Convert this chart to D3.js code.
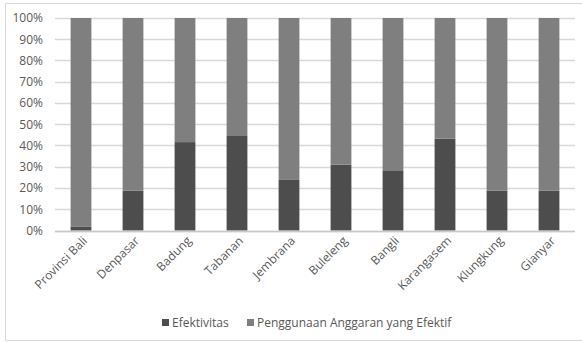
<!DOCTYPE html>
<html>
<head>
<meta charset="utf-8">
<script src="https://cdn.jsdelivr.net/npm/d3@7"></script>
<style>
  html, body { margin: 0; padding: 0; background: #fff; }
  svg { display: block; font-family: "Open Sans", "Liberation Sans", sans-serif; }
</style>
</head>
<body>
<svg id="chart" width="582" height="342"></svg>
<script>
// Regencies / province shown on the x axis
const categories = ["Provinsi Bali", "Denpasar", "Badung", "Tabanan", "Jembrana",
                    "Buleleng", "Bangli", "Karangasem", "Klungkung", "Gianyar"];
// Share of the bar taken by "Efektivitas" (percent)
const efektivitas = [1.7, 18.7, 41.6, 44.8, 23.8, 31.0, 28.0, 43.2, 18.7, 18.7];
// Remaining share: "Penggunaan Anggaran yang Efektif" (percent)
const penggunaan = efektivitas.map(v => 100 - v);
const seriesNames = ["Efektivitas", "Penggunaan Anggaran yang Efektif"];
const yTicks = [0, 10, 20, 30, 40, 50, 60, 70, 80, 90, 100];

const colors = ["#4d4d4d", "#7f7f7f"];
const textColor = "#595959";

const svg = d3.select("#chart");

// chart frame
svg.append("rect")
  .attr("x", 5.5).attr("y", 3.5)
  .attr("width", 590).attr("height", 337)
  .attr("fill", "#fff").attr("stroke", "#d9d9d9").attr("stroke-width", 1);

const plot = { left: 55, right: 575, top: 18, bottom: 230.5 };

const x = d3.scaleBand()
  .domain(categories)
  .range([plot.left, plot.right])
  .paddingInner(0.6).paddingOuter(0.3);

const y = d3.scaleLinear().domain([0, 100]).range([plot.bottom, plot.top]);

// horizontal gridlines
svg.append("g")
  .selectAll("line")
  .data(yTicks)
  .join("line")
  .attr("x1", plot.left).attr("x2", plot.right)
  .attr("y1", d => Math.round(y(d)) + 0.5).attr("y2", d => Math.round(y(d)) + 0.5)
  .attr("stroke", "#d9d9d9").attr("stroke-width", 1.5);

// y axis labels
const yAxis = d3.axisLeft(y).tickValues(yTicks).tickFormat(d => d + "%").tickSize(0).tickPadding(0);
const gy = svg.append("g").attr("transform", `translate(${plot.left - 12},0)`).call(yAxis);
gy.select(".domain").remove();
gy.selectAll("text").attr("fill", textColor).style("font-size", "12px")
  .style("font-family", '"Open Sans", "Liberation Sans", sans-serif');

// stacked bars
const rows = categories.map((c, i) => ({ cat: c, Efektivitas: efektivitas[i], Penggunaan: penggunaan[i] }));
const stack = d3.stack().keys(["Efektivitas", "Penggunaan"])(rows);

svg.append("g")
  .selectAll("g")
  .data(stack)
  .join("g")
  .attr("fill", (d, i) => colors[i])
  .selectAll("rect")
  .data(d => d)
  .join("rect")
  .attr("x", d => x(d.data.cat))
  .attr("width", x.bandwidth())
  .attr("y", d => y(d[1]))
  .attr("height", d => y(d[0]) - y(d[1]));

// baseline
svg.append("line")
  .attr("x1", plot.left).attr("x2", plot.right)
  .attr("y1", Math.round(y(0)) + 0.5).attr("y2", Math.round(y(0)) + 0.5)
  .attr("stroke", "#c8c8c8").attr("stroke-width", 1.5);

// x axis labels rotated
const xAxis = d3.axisBottom(x).tickSize(0).tickPadding(0);
const gx = svg.append("g").attr("transform", `translate(0,${plot.bottom})`).call(xAxis);
gx.select(".domain").remove();
gx.selectAll("text")
  .attr("fill", textColor)
  .style("font-size", "12px")
  .style("font-family", '"Open Sans", "Liberation Sans", sans-serif')
  .attr("text-anchor", "end")
  .attr("dy", "0")
  .attr("y", 0)
  .attr("transform", "translate(7,11) rotate(-45)");

// legend
const legend = svg.append("g").attr("transform", "translate(162,323)");
const legendX = [0, 85];
seriesNames.forEach((name, i) => {
  const g = legend.append("g").attr("transform", `translate(${legendX[i]},0)`);
  g.append("rect").attr("x", 0).attr("y", -4).attr("width", 7).attr("height", 7).attr("fill", colors[i]);
  g.append("text").attr("x", 10).attr("y", 0).attr("dy", "0.35em")
    .attr("fill", textColor).style("font-size", "12px").text(name);
});
</script>
</body>
</html>
